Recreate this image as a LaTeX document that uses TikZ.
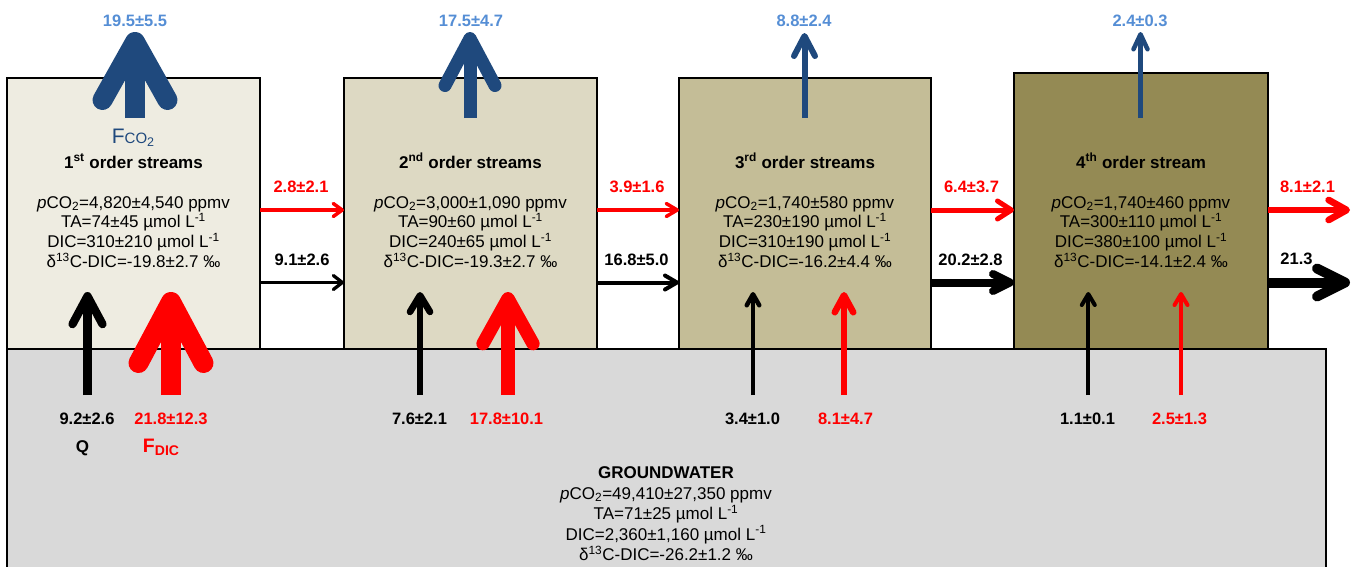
\documentclass[tikz,border=0pt]{standalone}
\usepackage{fontspec}
\setmainfont{Liberation Sans}
\usetikzlibrary{arrows.meta}
\definecolor{co2dark}{HTML}{1F497D}
\definecolor{co2light}{HTML}{558ED5}
\definecolor{dicred}{HTML}{FF0000}
\definecolor{ordA}{HTML}{EEECE1}
\definecolor{ordB}{HTML}{DDD9C3}
\definecolor{ordC}{HTML}{C4BD97}
\definecolor{ordD}{HTML}{948A54}
\definecolor{gwgray}{HTML}{D9D9D9}
\begin{document}
\begin{tikzpicture}[x=1pt,y=-1pt,
  stream/.style={draw=black, line width=2.5pt, anchor=north west, inner sep=0pt, outer sep=0pt},
  flux/.style n args={4}{draw=#1, line width=#2pt, -{Straight Barb[length=#3pt, width=#4pt, round]}},
  num/.style={font=\fontsize{16.5}{18}\selectfont\bfseries, inner sep=0pt, anchor=base},
  title/.style={font=\fontsize{17}{19.8}\selectfont\bfseries, inner sep=0pt, anchor=base},
  body/.style={font=\fontsize{17}{19.8}\selectfont, align=center, inner sep=0pt, anchor=base},
  gwbody/.style={font=\fontsize{17}{20.5}\selectfont, align=center, inner sep=0pt, anchor=base},
]
\useasboundingbox (0,0) rectangle (1352,566);

% stream order boxes
\node[stream, fill=ordA, minimum width=253pt, minimum height=272pt] (s1) at (7,78) {};
\node[stream, fill=ordB, minimum width=253pt, minimum height=272pt] (s2) at (344,78) {};
\node[stream, fill=ordC, minimum width=252pt, minimum height=272pt] (s3) at (679,78) {};
\node[stream, fill=ordD, minimum width=254pt, minimum height=277pt] (s4) at (1014,73) {};
% groundwater box
\node[stream, fill=gwgray, minimum width=1319pt, minimum height=260pt] (gw) at (7,349) {};

% stream texts (body nodes sit on the baseline of their last line)
\node[title] (t1) at (133.5,168) {1\textsuperscript{st} order streams};
\node[body] (b1) at (133.5,267.5) {\textit{p}CO\textsubscript{2}=4,820±4,540 ppmv\\TA=74±45 µmol L\textsuperscript{-1}\\DIC=310±210 µmol L\textsuperscript{-1}\\δ\textsuperscript{13}C-DIC=-19.8±2.7 ‰};
\node[title] (t2) at (470.5,168) {2\textsuperscript{nd} order streams};
\node[body] (b2) at (470.5,267.5) {\textit{p}CO\textsubscript{2}=3,000±1,090 ppmv\\TA=90±60 µmol L\textsuperscript{-1}\\DIC=240±65 µmol L\textsuperscript{-1}\\δ\textsuperscript{13}C-DIC=-19.3±2.7 ‰};
\node[title] (t3) at (805,168) {3\textsuperscript{rd} order streams};
\node[body] (b3) at (805,267.5) {\textit{p}CO\textsubscript{2}=1,740±580 ppmv\\TA=230±190 µmol L\textsuperscript{-1}\\DIC=310±190 µmol L\textsuperscript{-1}\\δ\textsuperscript{13}C-DIC=-16.2±4.4 ‰};
\node[title] (t4) at (1141,168) {4\textsuperscript{th} order stream};
\node[body] (b4) at (1141,267.5) {\textit{p}CO\textsubscript{2}=1,740±460 ppmv\\TA=300±110 µmol L\textsuperscript{-1}\\DIC=380±100 µmol L\textsuperscript{-1}\\δ\textsuperscript{13}C-DIC=-14.1±2.4 ‰};

% groundwater text
\node[title] (tg) at (666,478.5) {GROUNDWATER};
\node[gwbody] (bg) at (666,560.5) {\textit{p}CO\textsubscript{2}=49,410±27,350 ppmv\\TA=71±25 µmol L\textsuperscript{-1}\\DIC=2,360±1,160 µmol L\textsuperscript{-1}\\δ\textsuperscript{13}C-DIC=-26.2±1.2 ‰};

% rows of the downstream transfers
\coordinate (redrow) at (0,210);
\coordinate (blkrow) at (0,282.5);
\coordinate (outred) at (1350,210);
\coordinate (outblk) at (1350,282.5);

% downstream DIC (red) and discharge (black) transfers
\draw[flux={dicred}{3.5}{9}{13}] (s1.east |- redrow) -- (s2.west |- redrow);
\draw[flux={black}{3.3}{9}{14}] (s1.east |- blkrow) -- (s2.west |- blkrow);
\draw[flux={dicred}{3.5}{11}{13}] (s2.east |- redrow) -- (s3.west |- redrow);
\draw[flux={black}{4}{12}{14}] (s2.east |- blkrow) -- (s3.west |- blkrow);
\draw[flux={dicred}{5}{14}{18}] (s3.east |- redrow) -- (s4.west |- redrow);
\draw[flux={black}{8}{17}{17}] (s3.east |- blkrow) -- (s4.west |- blkrow);
\draw[flux={dicred}{6.7}{18}{20}] (s4.east |- redrow) -- (outred);
\draw[flux={black}{10}{28}{28}] (s4.east |- blkrow) -- (outblk);

% CO2 evasion arrows
\coordinate (e1s) at (135,118);  \coordinate (e1t) at (135,32);
\coordinate (e2s) at (470,118);  \coordinate (e2t) at (470,32);
\coordinate (e3s) at (804.5,118); \coordinate (e3t) at (804.5,33);
\coordinate (e4s) at (1140.5,118); \coordinate (e4t) at (1140.5,32);
\draw[flux={co2dark}{20}{58}{65}] (e1s) -- (e1t);
\draw[flux={co2dark}{13}{47}{50}] (e2s) -- (e2t);
\draw[flux={co2dark}{6}{20}{21}] (e3s) -- (e3t);
\draw[flux={co2dark}{4.5}{15}{14}] (e4s) -- (e4t);

% groundwater inputs: discharge (black) and DIC (red)
\coordinate (q1s) at (87.5,395);  \coordinate (q1t) at (87.5,292);
\coordinate (d1s) at (171,395);   \coordinate (d1t) at (171,292);
\coordinate (q2s) at (420,395);   \coordinate (q2t) at (420,292);
\coordinate (d2s) at (508,395);   \coordinate (d2t) at (508,292);
\coordinate (q3s) at (753,395);   \coordinate (q3t) at (753,292);
\coordinate (d3s) at (844,395);   \coordinate (d3t) at (844,292);
\coordinate (q4s) at (1088.3,395); \coordinate (q4t) at (1088.3,292);
\coordinate (d4s) at (1181,395);  \coordinate (d4t) at (1181,292);
\draw[flux={black}{8.3}{28}{30}] (q1s) -- (q1t);
\draw[flux={dicred}{20}{61}{65}] (d1s) -- (d1t);
\draw[flux={black}{6.7}{16.5}{20}] (q2s) -- (q2t);
\draw[flux={dicred}{13.3}{45}{50}] (d2s) -- (d2t);
\draw[flux={black}{4.5}{11}{12.5}] (q3s) -- (q3t);
\draw[flux={dicred}{6.5}{17}{18.5}] (d3s) -- (d3t);
\draw[flux={black}{4}{11}{13}] (q4s) -- (q4t);
\draw[flux={dicred}{4}{11}{13}] (d4s) -- (d4t);

% CO2 evasion values
\node[num, text=co2light] (v1) at (135,26) {19.5±5.5};
\node[num, text=co2light] (v2) at (471,26) {17.5±4.7};
\node[num, text=co2light] (v3) at (804,26) {8.8±2.4};
\node[num, text=co2light] (v4) at (1140,26) {2.4±0.3};
\node[inner sep=0pt, anchor=base, text=co2dark, font=\fontsize{21}{22}\selectfont] (fco2) at (133,143)
  {F{\fontsize{15}{16}\selectfont CO\raisebox{-3.5pt}{\fontsize{12.5}{13}\selectfont 2}}};

% downstream transfer values
\node[num, text=dicred] (r1) at (301,192) {2.8±2.1};
\node[num] (k1) at (302,265.5) {9.1±2.6};
\node[num, text=dicred] (r2) at (637,192) {3.9±1.6};
\node[num] (k2) at (636.5,265.5) {16.8±5.0};
\node[num, text=dicred] (r3) at (971.5,192) {6.4±3.7};
\node[num] (k3) at (970.5,265.5) {20.2±2.8};
\node[num, text=dicred] (r4) at (1307.5,192) {8.1±2.1};
\node[num] (k4) at (1296.5,264.5) {21.3};

% groundwater input values
\node[num] (g1) at (87,424) {9.2±2.6};
\node[num, text=dicred] (h1) at (171,424) {21.8±12.3};
\node[num] (g2) at (419.5,424) {7.6±2.1};
\node[num, text=dicred] (h2) at (506.5,424) {17.8±10.1};
\node[num] (g3) at (752.5,424) {3.4±1.0};
\node[num, text=dicred] (h3) at (845.5,424) {8.1±4.7};
\node[num] (g4) at (1087.5,424) {1.1±0.1};
\node[num, text=dicred] (h4) at (1179.5,424) {2.5±1.3};
\node[num, font=\fontsize{17}{18}\selectfont\bfseries] (qlab) at (82.5,452) {Q};
\node[inner sep=0pt, anchor=base, text=dicred, font=\fontsize{19.5}{20}\selectfont\bfseries] (fdic) at (161,452)
  {F\raisebox{-3pt}{\fontsize{14}{15}\selectfont DIC}};
\end{tikzpicture}
\end{document}
